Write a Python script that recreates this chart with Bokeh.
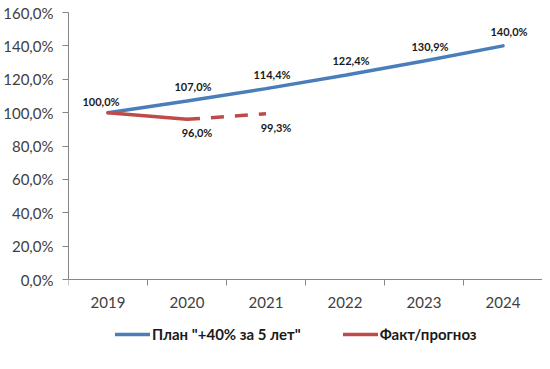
from bokeh.plotting import figure
from bokeh.models import Range1d, FixedTicker, Legend, LegendItem, ColumnDataSource
from bokeh.core.properties import value
from bokeh.embed import file_html
from bokeh.resources import INLINE

years = ["2019", "2020", "2021", "2022", "2023", "2024"]
plan = [100.0, 107.0, 114.4, 122.4, 130.9, 140.0]
fact_years = ["2019", "2020"]
fact = [100.0, 96.0]
forecast_years = ["2020", "2021"]
forecast = [96.0, 99.3]
y_ticks = [0, 20, 40, 60, 80, 100, 120, 140, 160]
y_tick_labels = ["0,0%", "20,0%", "40,0%", "60,0%", "80,0%", "100,0%", "120,0%", "140,0%", "160,0%"]
plan_name = 'План "+40% за 5 лет"'
fact_name = "Факт/прогноз"

BLUE = "#4A7EBB"
RED = "#BE4B48"
FONT = "Lato"

# chart area 0..160 occupies 267 px; extra room below holds axis labels and legend
PX_PER_UNIT = 267.3 / 160
EXTRA_PX = 80
y_lo = -EXTRA_PX / PX_PER_UNIT

def xpos(cats):
    return [years.index(c) + 0.5 for c in cats]

def fmt(v):
    return f"{v:.1f}".replace(".", ",") + "%"

p = figure(frame_width=474, frame_height=int(267.3 + EXTRA_PX), output_backend="svg",
           toolbar_location=None,
           x_range=Range1d(0, len(years)), y_range=Range1d(y_lo, y_ticks[-1]),
           min_border_left=68, min_border_right=0, min_border_top=12, min_border_bottom=2)
p.outline_line_color = None
p.xgrid.visible = False
p.ygrid.visible = False
p.background_fill_color = "white"

# axes
p.xaxis.fixed_location = 0
p.xaxis.ticker = FixedTicker(ticks=xpos(years), minor_ticks=list(range(len(years) + 1)))
p.xaxis.major_label_overrides = {x: y for x, y in zip(xpos(years), years)}
p.xaxis.major_tick_out = 0
p.xaxis.major_tick_in = 0
p.xaxis.minor_tick_out = 6
p.xaxis.minor_tick_in = 0
p.xaxis.major_label_standoff = 11
p.yaxis.bounds = (y_ticks[0], y_ticks[-1])
p.yaxis.ticker = FixedTicker(ticks=y_ticks, minor_ticks=[])
p.yaxis.major_label_overrides = {t: l for t, l in zip(y_ticks, y_tick_labels)}
p.yaxis.major_tick_out = 6
p.yaxis.major_tick_in = 0
p.yaxis.minor_tick_out = 0
p.yaxis.minor_tick_in = 0
p.yaxis.major_label_standoff = 9
for ax in (p.xaxis, p.yaxis):
    ax.axis_line_color = "#868686"
    ax.major_tick_line_color = "#868686"
    ax.minor_tick_line_color = "#868686"
    ax.major_label_text_font = FONT
    ax.major_label_text_font_size = "15px"
    ax.major_label_text_color = "#404040"

# lines
r_plan = p.line(xpos(years), plan, line_color=BLUE, line_width=3.5, line_cap="round")
r_fact = p.line(xpos(fact_years), fact, line_color=RED, line_width=3.5, line_cap="round")
p.line(xpos(forecast_years), forecast, line_color=RED, line_width=3.5, line_dash="13 11")

# data labels
src_plan = ColumnDataSource(dict(x=xpos(years[1:]), y=plan[1:], t=[fmt(v) for v in plan[1:]]))
p.text("x", "y", "t", source=src_plan, x_offset=6, y_offset=-8, text_align="center",
       text_baseline="bottom", text_font=value(FONT), text_font_style="bold",
       text_font_size="11px", text_color="#1a1a1a")
src_first = ColumnDataSource(dict(x=xpos(years[:1]), y=plan[:1], t=[fmt(v) for v in plan[:1]]))
p.text("x", "y", "t", source=src_first, x_offset=-7, y_offset=-5, text_align="center",
       text_baseline="bottom", text_font=value(FONT), text_font_style="bold",
       text_font_size="11px", text_color="#1a1a1a")
src_red = ColumnDataSource(dict(x=xpos(forecast_years), y=forecast, t=[fmt(v) for v in forecast]))
p.text("x", "y", "t", source=src_red, x_offset=10, y_offset=7, text_align="center",
       text_baseline="top", text_font=value(FONT), text_font_style="bold",
       text_font_size="11px", text_color="#1a1a1a")

# legend
lg = Legend(items=[LegendItem(label=plan_name, renderers=[r_plan]),
                   LegendItem(label=fact_name, renderers=[r_fact])],
            location=(47, 16), orientation="horizontal", padding=0, margin=0, spacing=42,
            glyph_width=35, glyph_height=16, label_standoff=2,
            label_text_font=FONT, label_text_font_style="bold",
            label_text_font_size="15px", label_text_color="#1a1a1a",
            border_line_color=None, background_fill_alpha=0)
p.add_layout(lg, "center")

open("out.html", "w").write(file_html(p, INLINE))
